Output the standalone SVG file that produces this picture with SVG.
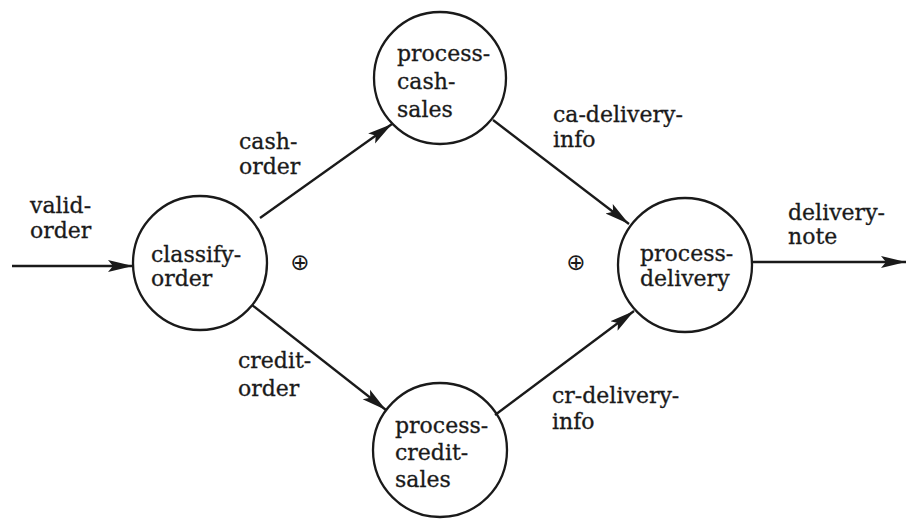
<svg xmlns="http://www.w3.org/2000/svg" width="907" height="519" viewBox="0 0 907 519">
<defs>
<style>
.node{fill:none;stroke:#1a1a1a;stroke-width:2.3}
.edge{fill:none;stroke:#1a1a1a;stroke-width:2.3}
text{font-family:"DejaVu Serif","Liberation Serif",serif;font-size:22px;fill:#1a1a1a;stroke:#1a1a1a;stroke-width:0.3}
.op{font-family:"DejaVu Sans",sans-serif;font-size:23px;stroke-width:0}
</style>
<marker id="arr" markerUnits="userSpaceOnUse" markerWidth="28" markerHeight="16" refX="25" refY="7" orient="auto">
<path d="M0,1 L25,7 L0,13 L5,7 Z" fill="#1a1a1a"/>
</marker>
</defs>
<rect width="907" height="519" fill="#fff"/>
<g id="connectors">
<line class="edge" x1="12" y1="266" x2="133" y2="266" marker-end="url(#arr)"/>
<line class="edge" x1="260" y1="218" x2="392" y2="124" marker-end="url(#arr)"/>
<line class="edge" x1="252" y1="305" x2="386" y2="410" marker-end="url(#arr)"/>
<line class="edge" x1="493" y1="120" x2="629" y2="224" marker-end="url(#arr)"/>
<line class="edge" x1="495" y1="415" x2="634" y2="311" marker-end="url(#arr)"/>
<line class="edge" x1="753" y1="262" x2="906" y2="262" marker-end="url(#arr)"/>
<text x="30" y="213">valid-</text>
<text x="30" y="238">order</text>
<text x="239" y="149">cash-</text>
<text x="239" y="174">order</text>
<text x="238" y="368">credit-</text>
<text x="238" y="396">order</text>
<text x="553" y="122">ca-delivery-</text>
<text x="553" y="147">info</text>
<text x="552" y="403">cr-delivery-</text>
<text x="552" y="429">info</text>
<text x="788" y="220">delivery-</text>
<text x="788" y="244">note</text>
<text class="op" x="300" y="270" text-anchor="middle">⊕</text>
<text class="op" x="576" y="270" text-anchor="middle">⊕</text>
</g>
<g id="classify-order">
<circle class="node" cx="200" cy="263" r="67"/>
<text x="151" y="262">classify-</text>
<text x="151" y="286">order</text>
</g>
<g id="process-cash-sales">
<circle class="node" cx="440" cy="78" r="66"/>
<text x="397" y="61">process-</text>
<text x="397" y="89">cash-</text>
<text x="397" y="117">sales</text>
</g>
<g id="process-credit-sales">
<circle class="node" cx="440" cy="450" r="67"/>
<text x="395" y="433">process-</text>
<text x="395" y="460">credit-</text>
<text x="395" y="487">sales</text>
</g>
<g id="process-delivery">
<circle class="node" cx="685" cy="265" r="67"/>
<text x="640" y="261">process-</text>
<text x="640" y="286">delivery</text>
</g>
</svg>
